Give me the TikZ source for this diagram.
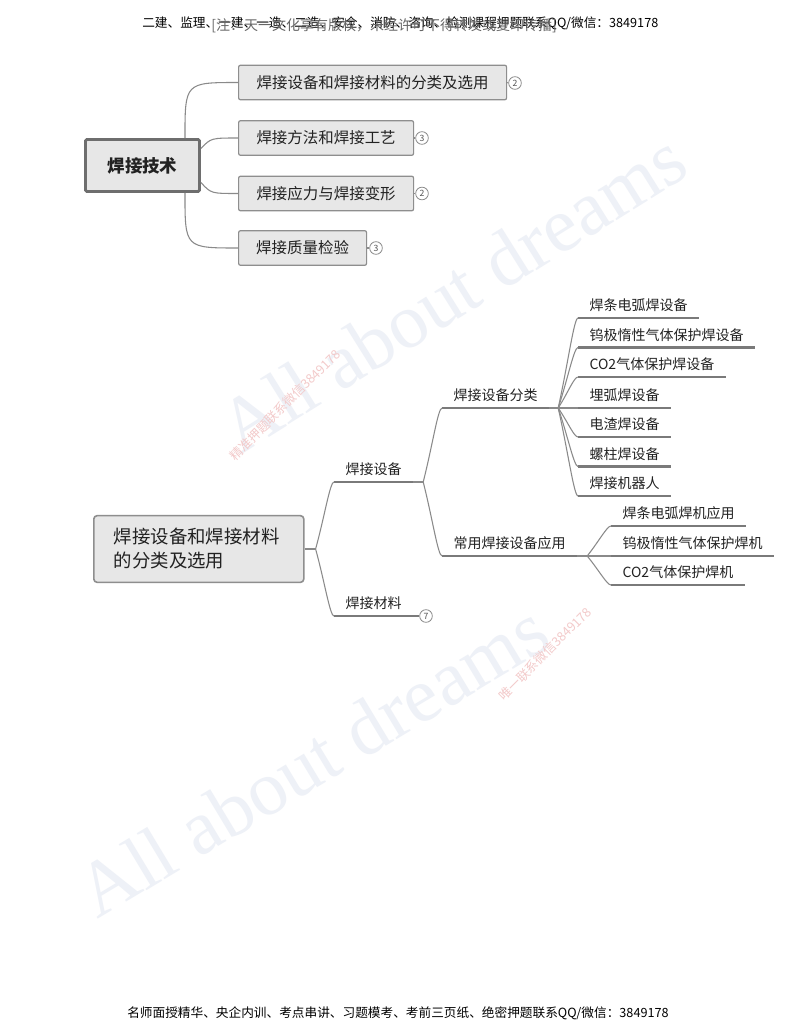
\documentclass[tikz,border=0pt]{standalone}
\usepackage{fontspec}
\setmainfont{Liberation Serif}
\newfontfamily\zh{Noto Sans CJK SC}
\usetikzlibrary{calc}

\definecolor{txtc}{HTML}{222222}
\definecolor{boxfill}{HTML}{E7E7E7}
\definecolor{boxline}{HTML}{8E8E8E}
\definecolor{rootline}{HTML}{6E6E6E}
\definecolor{lnk}{HTML}{8A8A8A}
\definecolor{ulc}{HTML}{7A7A7A}
\definecolor{wmblue}{HTML}{EEF1F7}
\definecolor{wmred}{HTML}{F3CACA}

\begin{document}
\begin{tikzpicture}[x=0.75pt,y=0.75pt,yscale=-1,xscale=1,
  curve/.style={draw=lnk, line width=0.8pt},
  uline/.style={draw=ulc, line width=2.1pt},
  rootbox/.style={draw=rootline, line width=2.2pt, fill=boxfill, rounded corners=1pt, minimum width=85.5pt, minimum height=39pt, inner sep=0pt, text=txtc, font=\zh\bfseries\fontsize{13.1}{15}\selectfont},
  topbox/.style={draw=boxline, line width=0.9pt, fill=boxfill, rounded corners=1.5pt, anchor=west, minimum height=26pt, inner sep=0pt, text=txtc, font=\zh\fontsize{11.6}{14}\selectfont},
  bigbox/.style={draw=boxline, line width=1.2pt, fill=boxfill, rounded corners=2.5pt, anchor=west, minimum height=50pt, text width=127.5pt, inner xsep=15pt, align=left, text=txtc, font=\zh\fontsize{13.8}{18}\selectfont},
  sublabel/.style={anchor=south west, inner xsep=8.5pt, inner ysep=4.3pt, text=txtc, font=\zh\fontsize{10.5}{12}\selectfont},
  numtag/.style={circle, draw=lnk, line width=0.6pt, fill=white, minimum size=9.5pt, inner sep=0pt, text=lnk!60!black, font=\zh\fontsize{6.5}{6.5}\selectfont},
  fan/.style={to path={.. controls ($(\tikztostart)!0.5!(\tikztotarget)$) and ($(\tikztotarget)+(-4,0)$) .. (\tikztotarget)}},
  hdr/.style={anchor=west, inner sep=0pt, text=black, font=\zh\fontsize{9.5}{10}\selectfont},
  hdrnote/.style={anchor=west, inner sep=0pt, text=black!60, font=\zh\fontsize{10.5}{11}\selectfont},
  wmark/.style={text=wmblue, font=\fontsize{58}{58}\selectfont, inner sep=0pt},
  redmark/.style={text=wmred, font=\zh\fontsize{9.5}{10}\selectfont, inner sep=0pt}
]
\path[fill=white] (0,0) rectangle (800,1035);
\useasboundingbox (0,0) rectangle (800,1035);

%Watermarks
\node[wmark, rotate=32] (wm1) at (452,292) {All about dreams};
\node[wmark, rotate=31] (wm2) at (312,760) {All about dreams};
\node[redmark, rotate=45] (rm1) at (285,405) {精准押题联系微信3849178};
\node[redmark, rotate=45] (rm2) at (545,654) {唯一联系微信3849178};

% Text Node
\node[hdr] (hd) at (142,23) {二建、监理、一建、一造、二造、安全、消防、咨询、检测课程押题联系QQ/微信：3849178};
% Text Node
\node[hdrnote] (cr) at (211,26) {[注：天一文化享有版权，未经许可不得转发或复印传播]};
% Text Node
\node[hdr] (ft) at (127,1013) {名师面授精华、央企内训、考点串讲、习题模考、考前三页纸、绝密押题联系QQ/微信：3849178};

%Shape: Rectangle [root]
\node[rootbox] (jsjs) at (142.5,165.5) {焊接技术};
%Shape: Rectangle
\node[topbox, minimum width=201pt] (b1) at (238,82.5) {焊接设备和焊接材料的分类及选用};
\node[topbox, minimum width=131.25pt] (b2) at (238,138) {焊接方法和焊接工艺};
\node[topbox, minimum width=131.25pt] (b3) at (238,193.5) {焊接应力与焊接变形};
\node[topbox, minimum width=96pt] (b4) at (238,248) {焊接质量检验};
%Shape: Circle
\node[numtag] (t1) at (515,83) {2};
\node[numtag] (t2) at (422,138) {3};
\node[numtag] (t3) at (422,193.5) {2};
\node[numtag] (t4) at (376,248) {3};
\draw[curve] (b1.east) -- (t1.west);
\draw[curve] (b2.east) -- (t2.west);
\draw[curve] (b3.east) -- (t3.west);
\draw[curve] (b4.east) -- (t4.west);

%Curve Lines
\coordinate (jsT) at ($(jsjs.north east)+(-16,0)$);
\coordinate (jsB) at ($(jsjs.south east)+(-16,0)$);
\coordinate (jsR1) at ($(jsjs.east)+(0,-17)$);
\coordinate (jsR2) at ($(jsjs.east)+(0,17)$);
\draw[curve] (jsT) .. controls (jsT |- b1.west) .. (b1.west);
\draw[curve] (jsR1) .. controls ($(jsR1 |- b2.west)+(10,0)$) .. (b2.west);
\draw[curve] (jsR2) .. controls ($(jsR2 |- b3.west)+(10,0)$) .. (b3.west);
\draw[curve] (jsB) .. controls (jsB |- b4.west) .. (b4.west);

%Shape: Rectangle [second map]
\node[bigbox] (fx) at (93,549) {焊接设备和焊接材料\\的分类及选用};
% Text Node
\node[sublabel] (sb) at (334,482) {焊接设备};
\node[sublabel] (cl) at (334,616) {焊接材料};
\node[numtag] (t5) at (426,616) {7};
\node[sublabel] (fl) at (442,408) {焊接设备分类};
\node[sublabel] (yy) at (442,556) {常用焊接设备应用};
\node[sublabel] (l1) at (578,318) {焊条电弧焊设备};
\node[sublabel] (l2) at (578,347.5) {钨极惰性气体保护焊设备};
\node[sublabel] (l3) at (578,377) {CO2气体保护焊设备};
\node[sublabel] (l4) at (578,408) {埋弧焊设备};
\node[sublabel] (l5) at (578,437) {电渣焊设备};
\node[sublabel] (l6) at (578,466.5) {螺柱焊设备};
\node[sublabel] (l7) at (578,496) {焊接机器人};
\node[sublabel] (a1) at (611,526) {焊条电弧焊机应用};
\node[sublabel] (a2) at (611,556) {钨极惰性气体保护焊机};
\node[sublabel] (a3) at (611,585) {CO2气体保护焊机};

%Straight Lines [underlines]
\foreach \n in {sb,cl,fl,yy,l1,l2,l3,l4,l5,l6,l7,a1,a2,a3}
  \draw[uline] (\n.south west) -- (\n.south east);
\draw[uline] (cl.south east) -- (t5.west);

%Curve Lines
\coordinate (f0) at ($(fx.east)+(11,0)$);
\coordinate (f1) at ($(sb.south east)+(10,0)$);
\coordinate (f2) at ($(fl.south east)+(9,0)$);
\coordinate (f3) at ($(yy.south east)+(10,0)$);
\draw[curve] (fx.east) -- (f0);
\draw[curve] (f0) to[fan] (sb.south west);
\draw[curve] (f0) to[fan] (cl.south west);
\draw[curve] (sb.south east) -- (f1);
\draw[curve] (f1) to[fan] (fl.south west);
\draw[curve] (f1) to[fan] (yy.south west);
\draw[curve] (fl.south east) -- (f2);
\foreach \n in {l1,l2,l3,l4,l5,l6,l7}
  \draw[curve] (f2) to[fan] (\n.south west);
\draw[curve] (yy.south east) -- (f3);
\foreach \n in {a1,a2,a3}
  \draw[curve] (f3) to[fan] (\n.south west);

\end{tikzpicture}
\end{document}
